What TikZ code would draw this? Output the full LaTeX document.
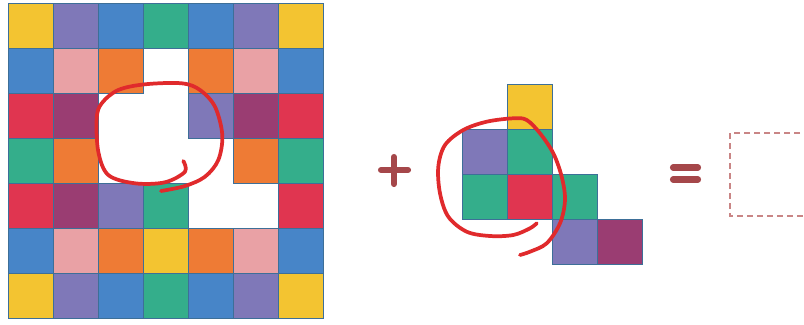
\documentclass[tikz,border=0pt]{standalone}
\definecolor{cy}{HTML}{F3C431}
\definecolor{cp}{HTML}{7F78B8}
\definecolor{cb}{HTML}{4785C8}
\definecolor{cg}{HTML}{34AE8B}
\definecolor{ck}{HTML}{E9A1A5}
\definecolor{co}{HTML}{EE7B35}
\definecolor{cr}{HTML}{E03550}
\definecolor{cm}{HTML}{9A3D72}
\definecolor{edgecol}{HTML}{3D6F98}
\definecolor{signcol}{HTML}{A5474A}
\definecolor{boxcol}{HTML}{C98585}
\definecolor{pencol}{HTML}{E02A2C}
\def\nonestr{none}
\begin{document}
\begin{tikzpicture}[x=0.75pt,y=-0.75pt,
  cell/.style={draw=edgecol,line width=0.6pt,inner sep=0pt,minimum width=33.75pt,minimum height=33.75pt,anchor=north west},
  signbar/.style={draw=signcol,line width=4.6pt,line cap=round},
  penline/.style={draw=pencol,line width=2.8pt,line cap=round,line join=round}]
\useasboundingbox (0,0) rectangle (804,325);
% big grid
\foreach \row/\cols in {0/{cy,cp,cb,cg,cb,cp,cy},
                        1/{cb,ck,co,none,co,ck,cb},
                        2/{cr,cm,none,none,cp,cm,cr},
                        3/{cg,co,none,none,none,co,cg},
                        4/{cr,cm,cp,cg,none,none,cr},
                        5/{cb,ck,co,cy,co,ck,cb},
                        6/{cy,cp,cb,cg,cb,cp,cy}}{
  \foreach \c [count=\col from 0] in \cols {
    \edef\tmp{\c}
    \ifx\tmp\nonestr
    \else
      \node[cell,fill=\c] (g-\row-\col) at ({8+45*\col},{2.5+45*\row}) {};
    \fi
  }
}
% second piece
\node[cell,fill=cy] (p-0-1) at (507,84) {};
\node[cell,fill=cp] (p-1-0) at (462,129) {};
\node[cell,fill=cg] (p-1-1) at (507,129) {};
\node[cell,fill=cg] (p-2-0) at (462,174) {};
\node[cell,fill=cr] (p-2-1) at (507,174) {};
\node[cell,fill=cg] (p-2-2) at (552,174) {};
\node[cell,fill=cp] (p-3-2) at (552,219) {};
\node[cell,fill=cm] (p-3-3) at (597,219) {};
% plus sign
\draw[signbar] (381,170) -- (408,170);
\draw[signbar] (394,157) -- (394,184);
% equals sign
\draw[signbar] (673,167.5) -- (698,167.5);
\draw[signbar] (673,179.5) -- (698,179.5);
% dashed answer box
\draw[boxcol,line width=1.2pt,dash pattern=on 4.5pt off 3pt] (810,133) -- (730,133) -- (730,216) -- (810,216);
% red hand-drawn loops
\draw[penline] plot[smooth,tension=0.55] coordinates {
  (183.3,161) (185,171.7) (165,182.3) (135,183.3) (108.3,175) (98.3,151.7)
  (96.7,118.3) (101.7,103.3) (118.3,90) (145,84.3) (181.7,83.3) (200,90)
  (215,106.7) (222.3,135) (218.3,160) (205,176.7) (185,186) (161,191)};
\draw[penline] plot[smooth,tension=0.55] coordinates {
  (536.7,223.3) (530,228.3) (513.3,235) (490,236) (466.7,231.7) (448.3,216.7)
  (440,193.3) (438.3,166.7) (445,145) (463.3,130) (486.7,121.7) (513.3,118.3)
  (526.7,120) (540,133.3) (553.3,153.3) (561.7,176.7) (565,200) (560,223.3)
  (546.7,243.3) (530,251.7) (520,255)};
\end{tikzpicture}
\end{document}
